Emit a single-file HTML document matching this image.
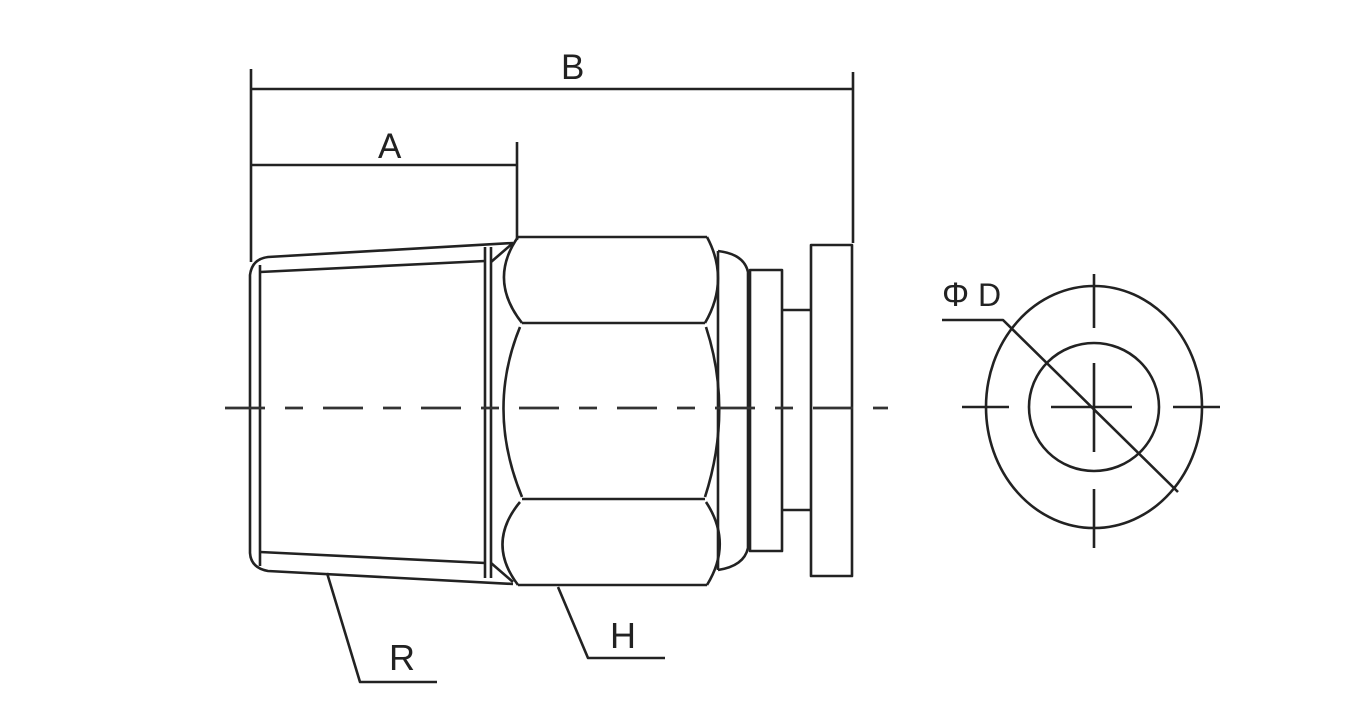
<!DOCTYPE html>
<html><head><meta charset="utf-8"><style>
html,body{margin:0;padding:0;background:#fff;}
svg{display:block;}
text{font-family:"Liberation Sans","DejaVu Sans",sans-serif;fill:#222;}
</style></head><body>
<svg width="1371" height="708" viewBox="0 0 1371 708" xmlns="http://www.w3.org/2000/svg">
<g stroke="#222" stroke-width="2.6" fill="none" stroke-linejoin="round">
<!-- dimension lines -->
<line x1="251" y1="69" x2="251" y2="262"/>
<line x1="853" y1="72" x2="853" y2="243"/>
<line x1="251" y1="89" x2="853" y2="89"/>
<line x1="251" y1="165" x2="517" y2="165"/>
<line x1="517" y1="142" x2="517" y2="240"/>
<!-- taper body -->
<path d="M513 243 L268 257 Q252 259 250 275 L250 553 Q251 568 268 571 L513 584"/>
<line x1="260" y1="265" x2="260" y2="566"/>
<line x1="260" y1="272" x2="485" y2="261"/>
<line x1="260" y1="552" x2="485" y2="563"/>
<line x1="485" y1="247" x2="485" y2="578"/>
<line x1="491" y1="247" x2="491" y2="578"/>
<line x1="491" y1="262" x2="513" y2="243"/>
<line x1="491" y1="563" x2="513" y2="582"/>
<!-- hex -->
<line x1="518" y1="237" x2="707" y2="237"/>
<line x1="518" y1="585" x2="707" y2="585"/>
<path d="M518 237 Q488 280 522 323 M707 237 Q730 280 705 323"/>
<line x1="522" y1="323" x2="705" y2="323"/>
<path d="M520 327 Q486 410 522 497 M706 327 Q733 410 705 497"/>
<line x1="522" y1="499" x2="705" y2="499"/>
<path d="M520 502 Q486 543 518 585 M706 502 Q733 543 707 585"/>
<!-- dome -->
<line x1="718" y1="251" x2="718" y2="570"/>
<path d="M718 251 Q744 254 748 272 L748 548 Q744 566 718 570"/>
<rect x="750" y="270" width="32" height="281"/>
<line x1="782" y1="310" x2="811" y2="310"/>
<line x1="782" y1="510" x2="811" y2="510"/>
<rect x="811" y="245" width="41" height="331"/>
<!-- leaders -->
<polyline points="327,573 360,682 437,682"/>
<polyline points="558,587 588,658 665,658"/>
<!-- end view -->
<ellipse cx="1094" cy="407" rx="108" ry="121"/>
<ellipse cx="1094" cy="407" rx="65" ry="64"/>
<line x1="1094" y1="274" x2="1094" y2="328"/>
<line x1="1094" y1="363" x2="1094" y2="452"/>
<line x1="1094" y1="489" x2="1094" y2="548"/>
<line x1="962" y1="407" x2="1009" y2="407"/>
<line x1="1051" y1="407" x2="1132" y2="407"/>
<line x1="1173" y1="407" x2="1220" y2="407"/>
<polyline points="942,320 1003,320 1178,492"/>
</g>
<!-- centerline -->
<line x1="225" y1="408" x2="888" y2="408" stroke="#333" stroke-width="2.8" stroke-dasharray="40,20,18,20"/>
<text x="378" y="158" font-size="35">A</text>
<text x="561" y="79" font-size="35">B</text>
<text x="389" y="670" font-size="36">R</text>
<text x="610" y="648" font-size="36">H</text>
<text x="942" y="306" font-size="34">Φ</text>
<text x="978" y="306" font-size="32">D</text>
</svg>
</body></html>
